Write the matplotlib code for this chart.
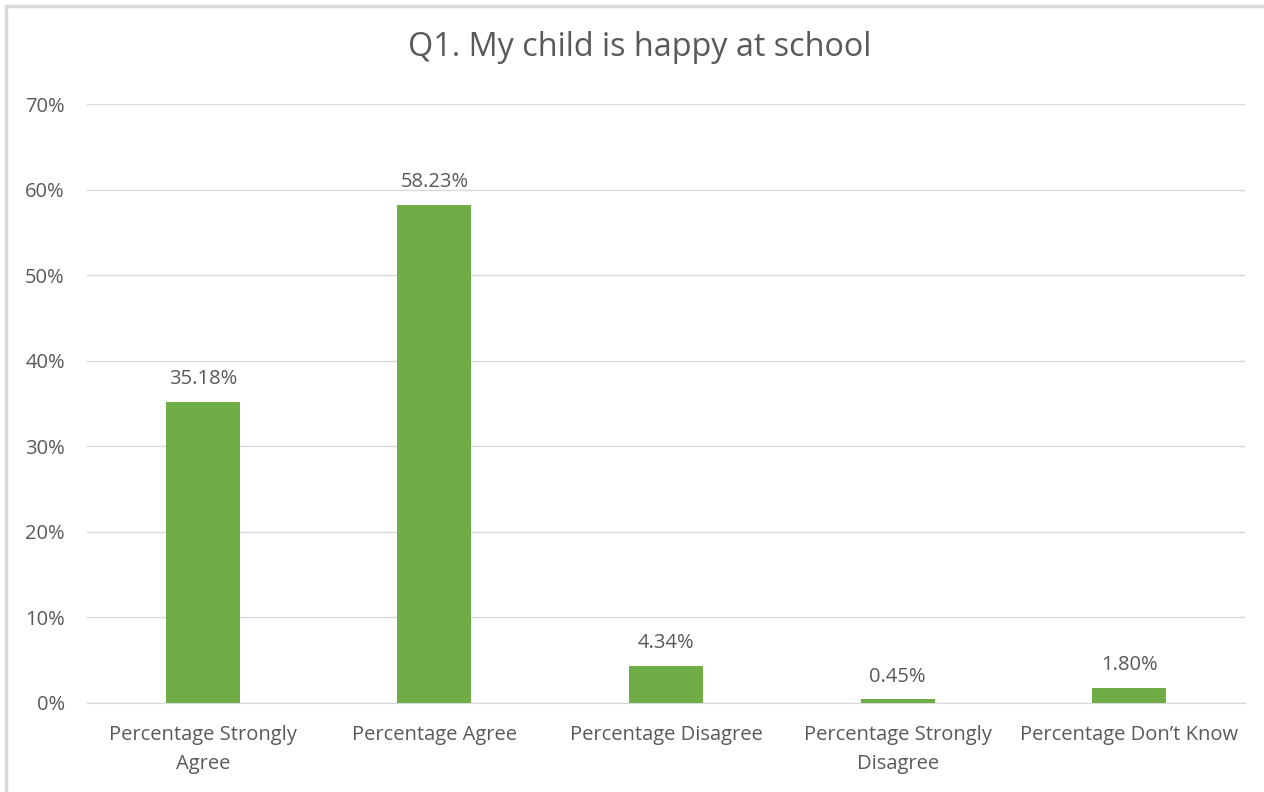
import matplotlib
matplotlib.use("Agg")
import matplotlib.pyplot as plt
from matplotlib.patches import Rectangle
from matplotlib.ticker import PercentFormatter

categories = ["Percentage Strongly\nAgree", "Percentage Agree", "Percentage Disagree",
              "Percentage Strongly\nDisagree", "Percentage Don\u2019t Know"]
values = [35.18, 58.23, 4.34, 0.45, 1.80]
value_labels = ["35.18%", "58.23%", "4.34%", "0.45%", "1.80%"]
yticks = [0, 10, 20, 30, 40, 50, 60, 70]

W, H = 1264, 792
fig = plt.figure(figsize=(W / 100, H / 100), dpi=100)
plt.rcParams['font.family'] = ['Open Sans', 'DejaVu Sans']
txt = "#595959"

# chart border (left/top visible)
fig.patches.append(Rectangle((6 / W, -0.1), 1.2, (H - 6) / H + 0.1, transform=fig.transFigure,
                             fill=False, edgecolor="#D9D9D9", linewidth=2.5))

ax = fig.add_axes([87 / W, (H - 703) / H, (1245 - 87) / W, (703 - 104) / H])
x = list(range(len(categories)))
ax.bar(x, values, width=0.32, color="#70AD47", zorder=3)
ax.set_xlim(-0.5, len(categories) - 0.5)
ax.set_ylim(0, 70)
ax.set_yticks(yticks)
ax.yaxis.set_major_formatter(PercentFormatter(decimals=0))
ax.grid(axis="y", color="#D9D9D9", linewidth=1, zorder=0)
for s in ["top", "right", "left"]:
    ax.spines[s].set_visible(False)
ax.spines["bottom"].set_color("#D9D9D9")
ax.tick_params(axis="both", length=0, colors=txt, labelsize=14.5)
ax.tick_params(axis="y", pad=16)
ax.tick_params(axis="x", pad=16)
ax.set_xticks(x)
ax.set_xticklabels(categories, linespacing=1.6)
for xi, v, lab in zip(x, values, value_labels):
    ax.annotate(lab, (xi, v), xytext=(0, 9), textcoords="offset points",
                ha="center", va="bottom", color=txt, fontsize=14.5)

fig.text(640 / W, 1 - 48 / H, "Q1. My child is happy at school", ha="center", va="center",
         fontsize=23.3, color=txt)

fig.savefig("out.png", dpi=100)
